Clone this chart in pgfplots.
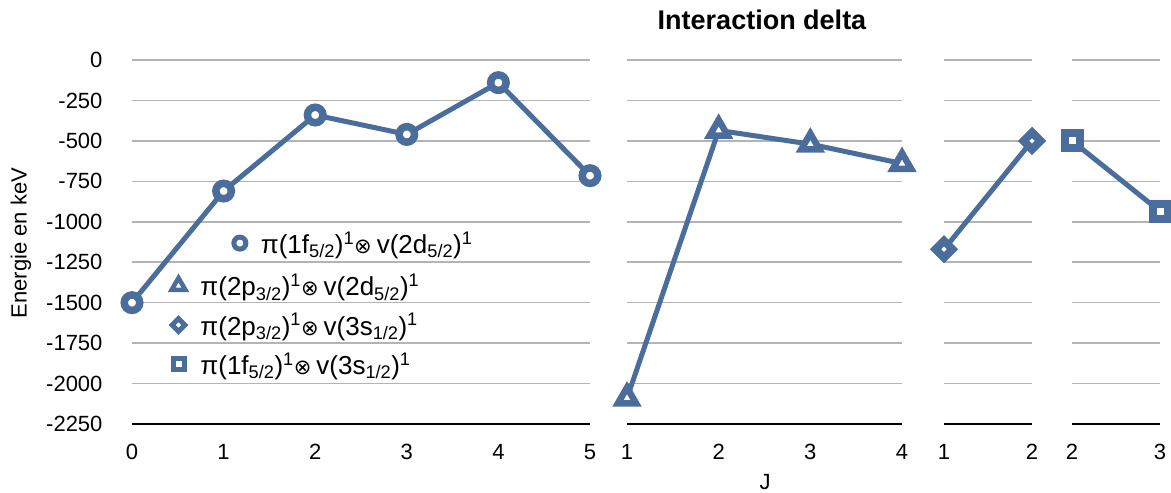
\documentclass[border=0pt]{standalone}
\usepackage{pgfplots}
\pgfplotsset{compat=1.18}
\usepackage{fontspec}
\setmainfont{Liberation Sans}
\newfontfamily\dejavu{DejaVu Sans}

\definecolor{serie}{RGB}{74,109,156}
\definecolor{grille}{RGB}{180,180,180}

\newcommand{\etat}[4]{π(#1\textsubscript{#2})\textsuperscript{1}{\dejavu\fontsize{21}{21}\selectfont ⊗}\hspace{5pt}v(#3\textsubscript{#4})\textsuperscript{1}}

\tikzset{
  rond/.style={mark=*, mark size=7.75pt, mark options={fill=white, line width=7.5pt}},
  triangle/.style={mark=triangle*, mark size=10.5pt, mark options={fill=white, line width=6.5pt}},
  losange/.style={mark=square*, mark size=6pt, mark options={rotate=45, fill=white, line width=8pt}},
  carre/.style={mark=square*, mark size=7.5pt, mark options={fill=white, line width=8pt}},
  % marques plus petites dans la legende
  rond leg/.style={mark=*, mark size=6pt, mark options={fill=white, line width=5pt}},
  triangle leg/.style={mark=triangle*, mark size=8pt, mark options={fill=white, line width=4.5pt}},
  losange leg/.style={mark=square*, mark size=4.5pt, mark options={rotate=45, fill=white, line width=5pt}},
  carre leg/.style={mark=square*, mark size=5.5pt, mark options={fill=white, line width=5pt}},
}

\pgfplotsset{
  panneau/.style={
    scale only axis, height=364pt,
    ymin=-2250, ymax=0, enlargelimits=false, clip=false,
    axis x line=bottom, axis y line=left,
    x axis line style={-, black, line width=2pt},
    y axis line style={draw=none},
    major tick length=0pt, tick style={draw=none},
    ymajorgrids, major grid style={grille, line width=1.6pt},
    ytick={-2250,-2000,...,0},
    yticklabels={},
    xtick=data,
    xticklabel style={anchor=north, yshift=-17pt},
    ticklabel style={font=\fontsize{22}{26}\selectfont},
    every axis plot/.append style={serie, line width=5pt},
    legend image code/.code={\draw[##1, only marks] plot coordinates {(0pt,0pt)};},
    legend style={draw=none, fill=none, inner sep=0pt,
      font=\fontsize{26}{30}\selectfont, legend cell align=left,
      row sep=12pt, column sep=13pt},
  },
}

\begin{document}
\begin{tikzpicture}
\useasboundingbox (0pt,0pt) rectangle (1171pt,-493pt);

% panneau 1
\begin{axis}[panneau, at={(132pt,-424pt)}, anchor=south west,
  width=458pt, xmin=0, xmax=5,
  yticklabels={-2250,-2000,-1750,-1500,-1250,-1000,-750,-500,-250,0},
  yticklabel style={anchor=east, xshift=-26pt},
  xticklabels={0,1,2,3,4,5},
  legend image post style={rond leg},
  legend style={at={(axis description cs:0.222,0.497)}, anchor=west}]
\addplot[rond] coordinates {(0,-1500) (1,-810) (2,-340) (3,-460) (4,-140) (5,-715)};
\addlegendentry{\etat{1f}{5/2}{2d}{5/2}}
\end{axis}

% legende des autres series
\begin{axis}[panneau, hide axis, at={(132pt,-424pt)}, anchor=south west,
  width=458pt, xmin=0, xmax=5,
  legend style={at={(axis description cs:0.086,0.272)}, anchor=west}]
\addlegendimage{serie, line width=5pt, triangle leg}
\addlegendentry{\etat{2p}{3/2}{2d}{5/2}}
\addlegendimage{serie, line width=5pt, losange leg}
\addlegendentry{\etat{2p}{3/2}{3s}{1/2}}
\addlegendimage{serie, line width=5pt, carre leg}
\addlegendentry{\etat{1f}{5/2}{3s}{1/2}}
\end{axis}

% panneau 2
\begin{axis}[panneau, at={(627pt,-424pt)}, anchor=south west,
  width=275pt, xmin=1, xmax=4, xticklabels={1,2,3,4}]
\addplot[triangle] coordinates {(1,-2090) (2,-435) (3,-520) (4,-640)};
\end{axis}

% panneau 3
\begin{axis}[panneau, at={(944pt,-424pt)}, anchor=south west,
  width=88pt, xmin=1, xmax=2, xticklabels={1,2}]
\addplot[losange] coordinates {(1,-1170) (2,-500)};
\end{axis}

% panneau 4
\begin{axis}[panneau, at={(1072pt,-424pt)}, anchor=south west,
  width=88pt, xmin=2, xmax=3, xticklabels={2,3}]
\addplot[carre] coordinates {(2,-500) (3,-935)};
\end{axis}

\node[font=\bfseries\fontsize{27}{30}\selectfont] at (762pt,-20pt) {Interaction delta};
\node[font=\fontsize{22}{26}\selectfont] at (765pt,-482pt) {J};
\node[font=\fontsize{22}{26}\selectfont, rotate=90] at (21pt,-243pt) {Energie en keV};
\end{tikzpicture}
\end{document}
